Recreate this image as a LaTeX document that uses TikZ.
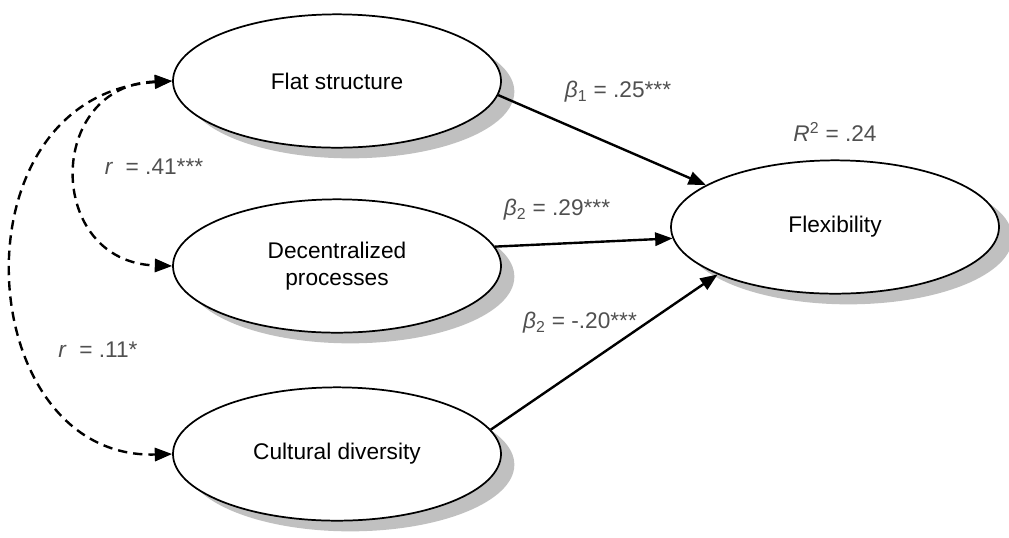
\documentclass[tikz,border=0pt]{standalone}
\usepackage{fontspec}
\setmainfont{Liberation Sans}
\usetikzlibrary{arrows.meta,shapes.geometric,shadows}

\definecolor{labelgray}{RGB}{80,80,80}
\definecolor{shadowgray}{RGB}{192,192,192}

\tikzset{
	sem/.style={
			x=0.75pt, y=-0.75pt,
			latent/.style={ellipse, draw, fill=white, line width=1.3pt, minimum width=246pt, minimum height=100pt,
					inner sep=0pt, align=center, font=\fontsize{17}{20}\selectfont,
					drop shadow={shadow xshift=10pt, shadow yshift=-8pt, fill=shadowgray, opacity=1}},
			coef/.style={text=labelgray, inner sep=1pt, font=\fontsize{17}{20}\selectfont},
			path/.style={line width=1.8pt, -{Triangle[length=13pt,width=10pt]}},
			corr/.style={line width=1.8pt, dash pattern=on 7pt off 4.5pt, {Triangle[length=13pt,width=10pt]}-{Triangle[length=13pt,width=10pt]}},
		}
}

\begin{document}
\begin{tikzpicture}[sem]
		\useasboundingbox (0,0) rectangle (1009,537);
		% latent variables
		\node[latent] (flat) at (337,81) {Flat structure};
		\node[latent] (dec) at (337,266) {Decentralized\\processes};
		\node[latent] (cult) at (337,454) {Cultural diversity};
		\node[latent] (flex) at (835,227) {Flexibility};
		% paths
		\draw[path] (flat.-5) -- (flex.162);
		\draw[path] (dec.7) -- (flex.184);
		\draw[path] (cult.9) -- (flex.202);
		% correlations
		\draw[corr] (flat.west) .. controls (45,85) and (45,262) .. (dec.west);
		\draw[corr] (flat.west) .. controls (-50,95) and (-30,460) .. (cult.west);
		% coefficients
		\node[coef] (b1) at (618,92) {\textit{β}\textsubscript{1} = .25***};
		\node[coef] (b2) at (557,210) {\textit{β}\textsubscript{2} = .29***};
		\node[coef] (b3) at (580,323) {\textit{β}\textsubscript{2} = -.20***};
		\node[coef] (r2) at (835,132) {\textit{R}\textsuperscript{2} = .24};
		\node[coef] (r1) at (154,167) {\textit{r}\ \ = .41***};
		\node[coef] (r3) at (98,350) {\textit{r}\ \ = .11*};
	\end{tikzpicture}
\end{document}
